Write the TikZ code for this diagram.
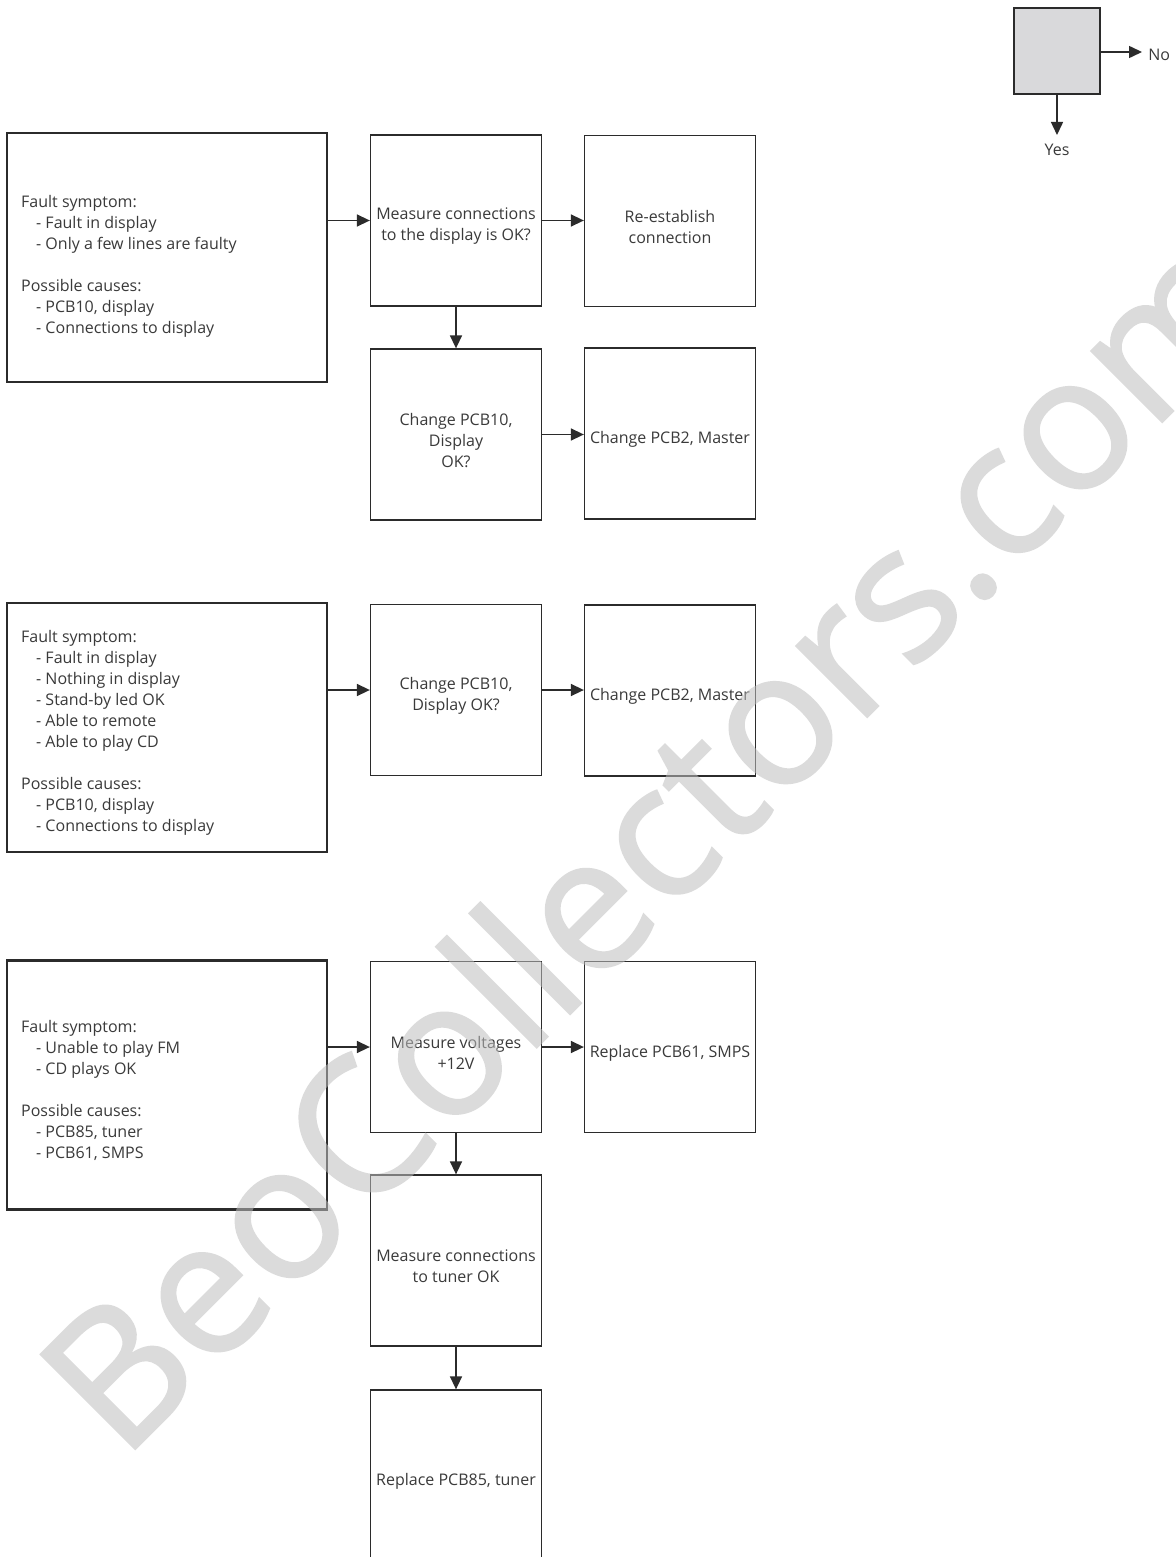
\documentclass[tikz,border=0pt]{standalone}
\usepackage{fontspec}
\setmainfont{Open Sans}
\newfontfamily\wmfont[FakeBold=1.2]{Open Sans}
\usetikzlibrary{arrows.meta}

\definecolor{linec}{HTML}{2B2B2B}
\definecolor{textc}{HTML}{3A3A3A}
\definecolor{legendfill}{HTML}{D9D9DB}
\definecolor{wmc}{HTML}{BEBEBE}

\newcommand{\fsz}{\fontsize{8}{10.5}\selectfont}
\newcommand{\ind}{\hspace*{7.5pt}}

\tikzset{
  stepbox/.style={draw=linec, line width=0.65pt, minimum width=85.5pt,
    minimum height=85.5pt, inner sep=0pt},
  faultbox/.style={draw=linec, line width=1.2pt, minimum width=160pt,
    minimum height=124.5pt, inner sep=0pt},
  legendbox/.style={draw=linec, line width=0.65pt, fill=legendfill,
    minimum width=43pt, minimum height=43pt, inner sep=0pt},
  steptext/.style={text=textc, align=center, font=\fsz, inner sep=0pt,
    yshift=-3pt},
  faulttext/.style={text=textc, align=left, font=\fsz, inner sep=0pt,
    anchor=west, xshift=7.5pt, yshift=-2.5pt},
  plain/.style={text=textc, font=\fsz, inner sep=0pt},
  arr/.style={draw=linec, line width=0.75pt,
    -{Triangle[length=6.5pt,width=6pt]}},
}

\begin{document}
\begin{tikzpicture}[x=0.5pt, y=-0.5pt]
\clip (0,0) rectangle (1175,1557);
\fill[white] (0,0) rectangle (1175,1557);

% legend
\node[legendbox] (lg) at (1057,51) {};
\coordinate (noend) at (1142,52);
\coordinate (yesend) at (1057,135);
\draw[arr] (lg.east |- noend) -- (noend);
\draw[arr] (lg.south) -- (yesend);
\node[plain, anchor=west] (no) at (1148,55) {No};
\node[plain] (yes) at (1057,150) {Yes};

% first symptom
\node[faultbox, label={[faulttext, yshift=-2pt]west:{Fault symptom:\\
  \ind- Fault in display\\
  \ind- Only a few lines are faulty\\[10.5pt]
  Possible causes:\\
  \ind- PCB10, display\\
  \ind- Connections to display}}] (f1) at (167,257.5) {};
\node[stepbox, label={[steptext]center:{Measure connections\\to the display is OK?}}] (m1) at (456,220.5) {};
\node[stepbox, label={[steptext]center:{Re-establish\\connection}}] (r1) at (670,221) {};
\node[stepbox, label={[steptext]center:{Change PCB10,\\Display\\OK?}}] (c1) at (456,434.5) {};
\node[stepbox, label={[steptext]center:{Change PCB2, Master}}] (p1) at (670,433.5) {};
\draw[arr] (f1.east |- m1.west) -- (m1.west);
\draw[arr] (m1.east) -- (r1.west |- m1.east);
\draw[arr] (m1.south) -- (c1.north);
\draw[arr] (c1.east) -- (p1.west |- c1.east);

% second symptom
\node[faultbox, label={[faulttext]west:{Fault symptom:\\
  \ind- Fault in display\\
  \ind- Nothing in display\\
  \ind- Stand-by led OK\\
  \ind- Able to remote\\
  \ind- Able to play CD\\[10.5pt]
  Possible causes:\\
  \ind- PCB10, display\\
  \ind- Connections to display}}] (f2) at (167,727.5) {};
\node[stepbox, label={[steptext]center:{Change PCB10,\\Display OK?}}] (c2) at (456,690) {};
\node[stepbox, label={[steptext]center:{Change PCB2, Master}}] (p2) at (670,690.5) {};
\draw[arr] (f2.east |- c2.west) -- (c2.west);
\draw[arr] (c2.east) -- (p2.west |- c2.east);

% third symptom
\node[faultbox, label={[faulttext]west:{Fault symptom:\\
  \ind- Unable to play FM\\
  \ind- CD plays OK\\[10.5pt]
  Possible causes:\\
  \ind- PCB85, tuner\\
  \ind- PCB61, SMPS}}] (f3) at (167,1085) {};
\node[stepbox, label={[steptext]center:{Measure voltages\\+12V}}] (m3) at (456,1047) {};
\node[stepbox, label={[steptext]center:{Replace PCB61, SMPS}}] (r3) at (670,1047) {};
\node[stepbox, label={[steptext]center:{Measure connections\\to tuner OK}}] (t3) at (456,1260.5) {};
\node[stepbox, label={[steptext]center:{Replace PCB85, tuner}}] (r4) at (456,1475.5) {};
\draw[arr] (f3.east |- m3.west) -- (m3.west);
\draw[arr] (m3.east) -- (r3.west |- m3.east);
\draw[arr] (m3.south) -- (t3.north);
\draw[arr] (t3.south) -- (r4.north);

% watermark over the chart
\begin{scope}[transparency group, opacity=0.55]
\node[rotate=45, anchor=base west, text=wmc, inner sep=0pt,
  font=\wmfont\fontsize{93.5}{98}\selectfont] (wm) at (122,1462) {BeoCollectors.com};
\end{scope}
\end{tikzpicture}
\end{document}
